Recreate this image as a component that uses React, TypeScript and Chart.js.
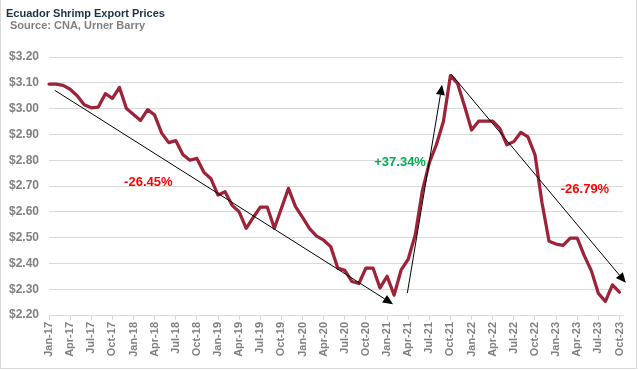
import React, { useEffect, useRef } from 'react';
import { Chart, registerables } from 'chart.js';

Chart.register(...registerables);

const months = [
  'Jan-17','Feb-17','Mar-17','Apr-17','May-17','Jun-17','Jul-17','Aug-17','Sep-17','Oct-17','Nov-17','Dec-17',
  'Jan-18','Feb-18','Mar-18','Apr-18','May-18','Jun-18','Jul-18','Aug-18','Sep-18','Oct-18','Nov-18','Dec-18',
  'Jan-19','Feb-19','Mar-19','Apr-19','May-19','Jun-19','Jul-19','Aug-19','Sep-19','Oct-19','Nov-19','Dec-19',
  'Jan-20','Feb-20','Mar-20','Apr-20','May-20','Jun-20','Jul-20','Aug-20','Sep-20','Oct-20','Nov-20','Dec-20',
  'Jan-21','Feb-21','Mar-21','Apr-21','May-21','Jun-21','Jul-21','Aug-21','Sep-21','Oct-21','Nov-21','Dec-21',
  'Jan-22','Feb-22','Mar-22','Apr-22','May-22','Jun-22','Jul-22','Aug-22','Sep-22','Oct-22','Nov-22','Dec-22',
  'Jan-23','Feb-23','Mar-23','Apr-23','May-23','Jun-23','Jul-23','Aug-23','Sep-23','Oct-23',
];

const prices = [
  3.095, 3.095, 3.09, 3.075, 3.05, 3.015, 3.003, 3.006, 3.058, 3.04, 3.082, 3.0,
  2.977, 2.954, 2.996, 2.975, 2.905, 2.868, 2.876, 2.822, 2.8, 2.807, 2.753, 2.728,
  2.665, 2.678, 2.625, 2.6, 2.536, 2.578, 2.618, 2.618, 2.536, 2.614, 2.691, 2.62,
  2.578, 2.535, 2.506, 2.49, 2.465, 2.382, 2.373, 2.33, 2.322, 2.382, 2.382, 2.305,
  2.35, 2.277, 2.375, 2.416, 2.51, 2.68, 2.79, 2.86, 2.95, 3.128, 3.098, 3.01,
  2.917, 2.951, 2.951, 2.951, 2.923, 2.86, 2.872, 2.908, 2.89, 2.822, 2.635, 2.486,
  2.475, 2.47, 2.498, 2.498, 2.43, 2.372, 2.284, 2.253, 2.317, 2.289,
];

// every third month is labelled on the axis
const tickMonths = [
  'Jan-17','Apr-17','Jul-17','Oct-17','Jan-18','Apr-18','Jul-18','Oct-18','Jan-19','Apr-19','Jul-19','Oct-19',
  'Jan-20','Apr-20','Jul-20','Oct-20','Jan-21','Apr-21','Jul-21','Oct-21','Jan-22','Apr-22','Jul-22','Oct-22',
  'Jan-23','Apr-23','Jul-23','Oct-23',
];

const yTicks = [2.2, 2.3, 2.4, 2.5, 2.6, 2.7, 2.8, 2.9, 3.0, 3.1, 3.2];

// trend arrows in data coordinates (month index, price)
const arrowStartX = [0.81, 50.88, 57.13];
const arrowStartY = [3.071, 2.285, 3.133];
const arrowEndX = [48.85, 55.81, 81.9];
const arrowEndY = [2.242, 3.092, 2.325];

const changeLabels = ['-26.45%', '+37.34%', '-26.79%'];
const changeLabelX = [14.1, 49.85, 76.1];
const changeLabelY = [2.715, 2.793, 2.688];
const changeLabelColors = ['#ff0000', '#00b050', '#ff0000'];

const TITLE = 'Ecuador Shrimp Export Prices';
const SUBTITLE = 'Source: CNA, Urner Barry';

const FONT = '"Liberation Sans", Arial, sans-serif';

const annotationPlugin = {
  id: 'trendAnnotations',
  afterDatasetsDraw(chart: any) {
    const { ctx, scales } = chart;
    const xs = scales.x;
    const ys = scales.y;
    ctx.save();
    ctx.strokeStyle = '#000000';
    ctx.fillStyle = '#000000';
    ctx.lineWidth = 1;
    for (let k = 0; k < arrowStartX.length; k++) {
      const x1 = xs.getPixelForValue(arrowStartX[k]);
      const y1 = ys.getPixelForValue(arrowStartY[k]);
      const x2 = xs.getPixelForValue(arrowEndX[k]);
      const y2 = ys.getPixelForValue(arrowEndY[k]);
      const ang = Math.atan2(y2 - y1, x2 - x1);
      const len = 10;
      const half = 4.5;
      const bx = x2 - len * Math.cos(ang);
      const by = y2 - len * Math.sin(ang);
      ctx.beginPath();
      ctx.moveTo(x1, y1);
      ctx.lineTo(bx, by);
      ctx.stroke();
      ctx.beginPath();
      ctx.moveTo(x2, y2);
      ctx.lineTo(bx + half * Math.sin(ang), by - half * Math.cos(ang));
      ctx.lineTo(bx - half * Math.sin(ang), by + half * Math.cos(ang));
      ctx.closePath();
      ctx.fill();
    }
    ctx.font = `bold 13px ${FONT}`;
    ctx.textAlign = 'center';
    ctx.textBaseline = 'middle';
    for (let k = 0; k < changeLabels.length; k++) {
      ctx.fillStyle = changeLabelColors[k];
      ctx.fillText(changeLabels[k], xs.getPixelForValue(changeLabelX[k]), ys.getPixelForValue(changeLabelY[k]));
    }
    ctx.restore();
  },
  afterDraw(chart: any) {
    const { ctx, width, height } = chart;
    ctx.save();
    ctx.textAlign = 'left';
    ctx.textBaseline = 'alphabetic';
    ctx.font = `bold 11px ${FONT}`;
    ctx.fillStyle = '#1a3246';
    ctx.fillText(TITLE, 6, 16.5);
    ctx.fillStyle = '#808080';
    ctx.fillText(SUBTITLE, 10, 28.5);
    // chart frame
    ctx.strokeStyle = '#d9d9d9';
    ctx.lineWidth = 1;
    ctx.beginPath();
    ctx.moveTo(0.5, 0);
    ctx.lineTo(0.5, 368.5);
    ctx.lineTo(636.5, 368.5);
    ctx.lineTo(636.5, 0);
    ctx.stroke();
    ctx.restore();
  },
};

export default function App() {
  const canvasRef = useRef<HTMLCanvasElement | null>(null);

  useEffect(() => {
    document.body.style.margin = '0';
    const canvas = canvasRef.current;
    if (!canvas) return;
    const chart = new Chart(canvas, {
      type: 'line',
      data: {
        datasets: [
          {
            label: 'Price',
            data: prices.map((v, i) => ({ x: i, y: v })),
            borderColor: '#9e2238',
            backgroundColor: '#9e2238',
            borderWidth: 3.25,
            pointRadius: 0,
            pointHoverRadius: 0,
            tension: 0,
            borderJoinStyle: 'round',
            borderCapStyle: 'round',
            clip: false as any,
          },
        ],
      },
      options: {
        responsive: false,
        animation: false,
        devicePixelRatio: 1,
        layout: { padding: { top: 57, left: 0, right: 15, bottom: 0 } },
        plugins: {
          legend: { display: false },
          tooltip: { enabled: false },
          title: { display: false },
        },
        scales: {
          x: {
            type: 'linear',
            min: 0,
            max: 81.5,
            afterBuildTicks: (scale: any) => {
              scale.ticks = tickMonths.map((m) => ({ value: months.indexOf(m) }));
            },
            afterFit: (scale: any) => {
              scale.height = 55;
            },
            grid: {
              drawOnChartArea: false,
              drawTicks: true,
              tickLength: 5,
              color: '#d9d9d9',
            },
            border: { display: true, color: '#d9d9d9', width: 1 },
            ticks: {
              autoSkip: false,
              minRotation: 90,
              maxRotation: 90,
              padding: 2,
              color: '#808080',
              font: { family: FONT, size: 11, weight: 'bold' },
              callback: (v: any) => months[Math.round(Number(v))] ?? '',
            },
          },
          y: {
            type: 'linear',
            min: yTicks[0],
            max: yTicks[yTicks.length - 1],
            afterBuildTicks: (scale: any) => {
              scale.ticks = yTicks.map((v) => ({ value: v }));
            },
            afterFit: (scale: any) => {
              scale.width = 49;
            },
            grid: { color: '#d9d9d9', drawTicks: false, lineWidth: 1 },
            border: { display: false },
            ticks: {
              padding: 10,
              color: '#808080',
              font: { family: FONT, size: 12, weight: 'bold' },
              callback: (v: any) => '$' + Number(v).toFixed(2),
            },
          },
        },
      },
      plugins: [annotationPlugin],
    } as any);
    return () => chart.destroy();
  }, []);

  return (
    <div style={{ width: 638, height: 370, position: 'relative' }}>
      <canvas ref={canvasRef} width={638} height={370} style={{ display: 'block' }} />
    </div>
  );
}
